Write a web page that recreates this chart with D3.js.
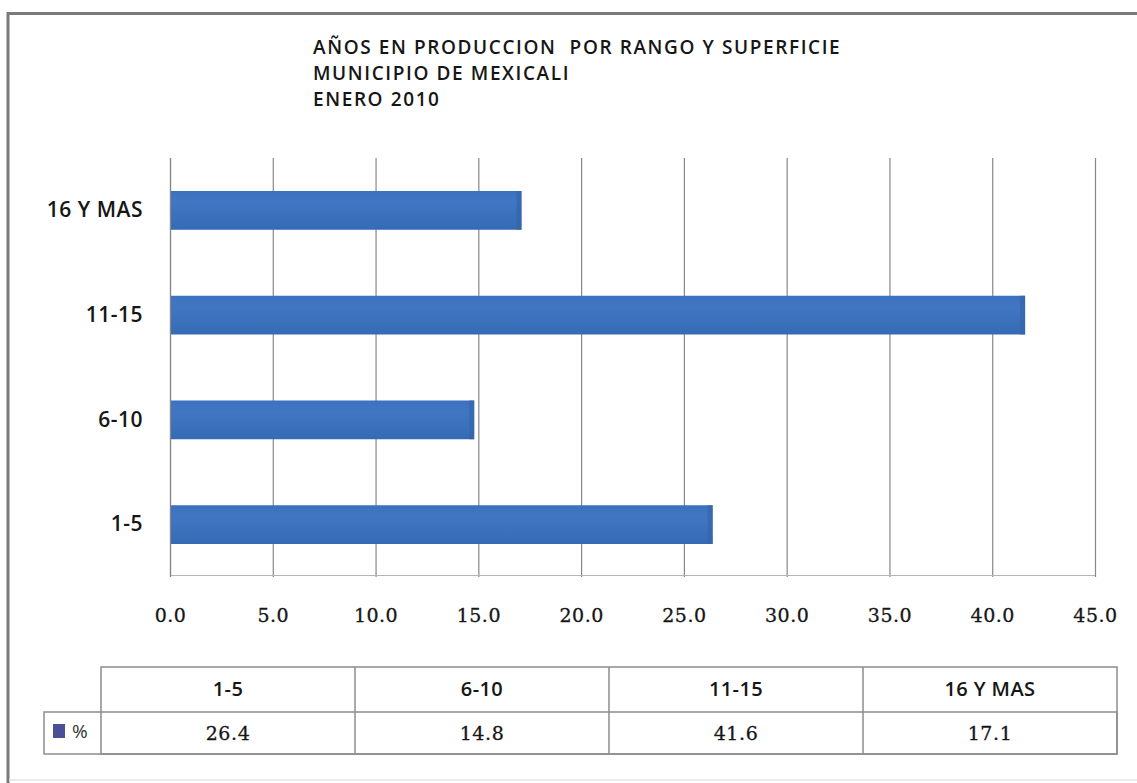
<!DOCTYPE html>
<html>
<head>
<meta charset="utf-8">
<script src="https://cdn.jsdelivr.net/npm/d3@7"></script>
<style>
body { margin: 0; background: #ffffff; }
</style>
</head>
<body>
<svg id="chart"></svg>
<script>

// data

const categories = ["1-5", "6-10", "11-15", "16 Y MAS"];
const values = [26.4, 14.8, 41.6, 17.1];
const xTicks = [0, 5, 10, 15, 20, 25, 30, 35, 40, 45];
const seriesName = "%";
const titleLines = [
    "AÑOS EN PRODUCCION  POR RANGO Y SUPERFICIE",
    "MUNICIPIO DE MEXICALI",
    "ENERO 2010"
];

const width = 1137;
const height = 783;

const svg = d3.select("#chart")
    .attr("width", width)
    .attr("height", height);

const sans = "'Open Sans', 'Noto Sans', sans-serif";
const serif = "'DejaVu Serif', 'Liberation Serif', serif";
const textColor = "#161616";
const gridColor = "#878787";

// outer frame

svg.append("rect")
    .attr("x", 0).attr("y", 0)
    .attr("width", width).attr("height", height)
    .attr("fill", "#ffffff");

svg.append("line")
    .attr("x1", 7).attr("x2", width).attr("y1", 13.5).attr("y2", 13.5)
    .attr("stroke", "#7a7a7a").attr("stroke-width", 3);

svg.append("line")
    .attr("x1", 8).attr("x2", 8).attr("y1", 12).attr("y2", height)
    .attr("stroke", "#7a7a7a").attr("stroke-width", 3);

svg.append("line")
    .attr("x1", 9).attr("x2", width).attr("y1", 780).attr("y2", 780)
    .attr("stroke", "#e4e4e4").attr("stroke-width", 1.5);

// title, one text per line so the lines don't share a box

svg.append("g")
    .selectAll("text")
    .data(titleLines)
    .join("text")
    .attr("x", 313)
    .attr("y", (d, i) => 54 + i * 25.8)
    .attr("font-family", sans)
    .attr("font-size", 19)
    .attr("font-weight", 600)
    .attr("letter-spacing", 1.6)
    .attr("fill", textColor)
    .attr("xml:space", "preserve")
    .style("white-space", "pre")
    .text(d => d);

// scales

const plotTop = 158;
const plotBottom = 577;

const x = d3.scaleLinear()
    .domain([0, 45])
    .range([170, 1095]);

const y = d3.scaleBand()
    .domain(categories.slice().reverse())
    .range([plotTop, plotBottom])
    .paddingInner(0.63)
    .paddingOuter(0.315);

// gridlines

svg.append("g")
    .selectAll("line")
    .data(xTicks)
    .join("line")
    .attr("x1", d => x(d) + 0.5)
    .attr("x2", d => x(d) + 0.5)
    .attr("y1", plotTop)
    .attr("y2", plotBottom)
    .attr("stroke", gridColor)
    .attr("stroke-width", 1.2);

svg.append("line")
    .attr("x1", x(0)).attr("x2", x(45))
    .attr("y1", plotBottom - 1.5).attr("y2", plotBottom - 1.5)
    .attr("stroke", "#b5b5b5").attr("stroke-width", 1);

// bars

const defs = svg.append("defs");
const grad = defs.append("linearGradient")
    .attr("id", "barGrad")
    .attr("x1", 0).attr("x2", 0).attr("y1", 0).attr("y2", 1);
grad.append("stop").attr("offset", "0%").attr("stop-color", "#3b71bf");
grad.append("stop").attr("offset", "30%").attr("stop-color", "#4177c2");
grad.append("stop").attr("offset", "100%").attr("stop-color", "#356ab5");

svg.append("g")
    .selectAll("rect")
    .data(categories)
    .join("rect")
    .attr("x", x(0) + 1)
    .attr("y", d => y(d))
    .attr("width", (d, i) => x(values[i]) - x(0) - 1)
    .attr("height", y.bandwidth())
    .attr("fill", "url(#barGrad)");

// darker end caps like the original bevel
svg.append("g")
    .selectAll("rect")
    .data(categories)
    .join("rect")
    .attr("x", (d, i) => x(values[i]) - 5)
    .attr("y", d => y(d))
    .attr("width", 5)
    .attr("height", y.bandwidth())
    .attr("fill", "#3465ab")
    .attr("opacity", 0.7);

// category axis

const yAxis = svg.append("g")
    .attr("transform", `translate(${x(0)},0)`)
    .call(d3.axisLeft(y).tickSize(0).tickPadding(27));

yAxis.select(".domain")
    .attr("stroke", gridColor)
    .attr("stroke-width", 1.2)
    .attr("d", `M0.5,${plotTop}V${plotBottom}`);

yAxis.selectAll("text")
    .attr("font-family", sans)
    .attr("font-size", 21)
    .attr("font-weight", 600)
    .attr("letter-spacing", 0.5)
    .attr("fill", textColor);

// value axis

const xAxis = svg.append("g")
    .attr("transform", `translate(0,${plotBottom})`)
    .call(d3.axisBottom(x).tickValues(xTicks).tickSize(0).tickPadding(32)
        .tickFormat(d3.format(".1f")));

xAxis.select(".domain").remove();

xAxis.selectAll("text")
    .attr("font-family", serif)
    .attr("font-size", 19)
    .attr("letter-spacing", 0.5)
    .attr("fill", textColor)
    .attr("stroke", textColor)
    .attr("stroke-width", 0.3);

// data table

const tableLeft = 101;
const tableRight = 1117;
const legendLeft = 44;
const rowTop = 667;
const rowMid = 712;
const rowBottom = 754;

const col = d3.scaleBand()
    .domain(categories)
    .range([tableLeft, tableRight]);

const table = svg.append("g")
    .attr("fill", "none")
    .attr("stroke", "#8c8c8c")
    .attr("stroke-width", 1.5);

table.append("rect")
    .attr("x", tableLeft).attr("y", rowTop)
    .attr("width", tableRight - tableLeft).attr("height", rowBottom - rowTop);

table.append("rect")
    .attr("x", legendLeft).attr("y", rowMid)
    .attr("width", tableRight - legendLeft).attr("height", rowBottom - rowMid);

table.selectAll("line.col")
    .data(categories.slice(1))
    .join("line")
    .attr("class", "col")
    .attr("x1", d => col(d)).attr("x2", d => col(d))
    .attr("y1", rowTop).attr("y2", rowBottom);

svg.append("g")
    .selectAll("text")
    .data(categories)
    .join("text")
    .attr("x", d => col(d) + col.bandwidth() / 2)
    .attr("y", 696)
    .attr("text-anchor", "middle")
    .attr("font-family", sans)
    .attr("font-size", 20)
    .attr("font-weight", 600)
    .attr("letter-spacing", 0.4)
    .attr("fill", textColor)
    .text(d => d);

svg.append("g")
    .selectAll("text")
    .data(values)
    .join("text")
    .attr("x", (d, i) => col(categories[i]) + col.bandwidth() / 2)
    .attr("y", 740)
    .attr("text-anchor", "middle")
    .attr("font-family", serif)
    .attr("font-size", 19)
    .attr("letter-spacing", 0.6)
    .attr("fill", textColor)
    .attr("stroke", textColor)
    .attr("stroke-width", 0.3)
    .text(d => d3.format(".1f")(d));

// legend key

svg.append("rect")
    .attr("x", 53).attr("y", 724)
    .attr("width", 12).attr("height", 14)
    .attr("fill", "#4a4f96");

svg.append("text")
    .attr("x", 72)
    .attr("y", 738)
    .attr("font-family", sans)
    .attr("font-size", 19)
    .attr("fill", "#333")
    .text(seriesName);

</script>
</body>
</html>
